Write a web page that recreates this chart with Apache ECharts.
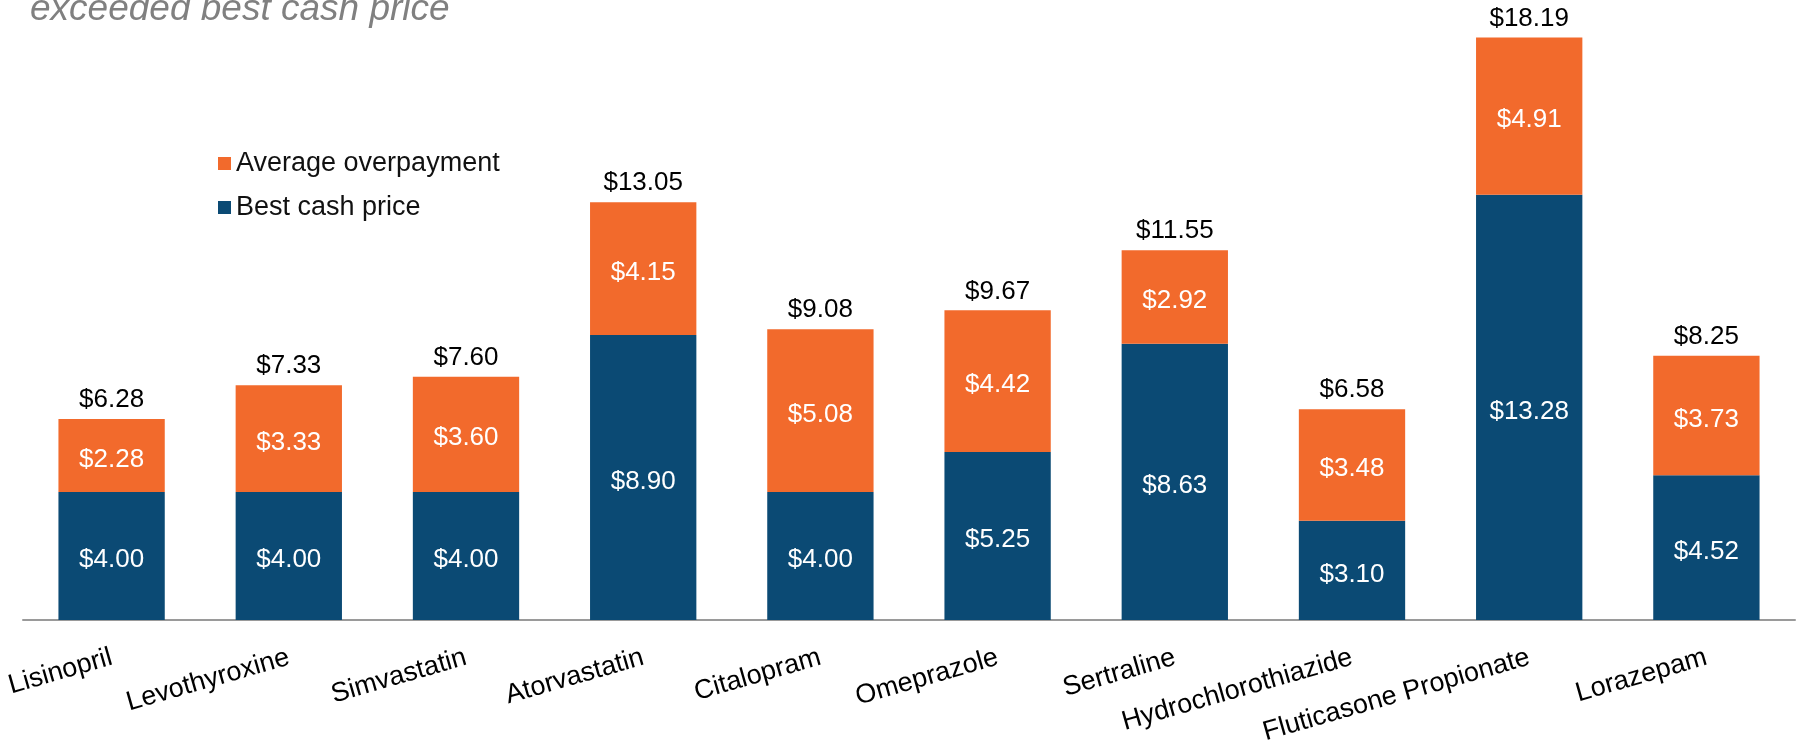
<!DOCTYPE html>
<html>
<head>
<meta charset="utf-8">
<script src="https://cdn.jsdelivr.net/npm/echarts@6/dist/echarts.min.js"></script>
<style>
  html, body { margin: 0; padding: 0; background: #fff; }
  #main { width: 1799px; height: 743px; }
</style>
</head>
<body>
<div id="main"></div>
<script>
  // drugs on the x axis
  var drugs = ['Lisinopril', 'Levothyroxine', 'Simvastatin', 'Atorvastatin', 'Citalopram',
    'Omeprazole', 'Sertraline', 'Hydrochlorothiazide', 'Fluticasone Propionate', 'Lorazepam'];
  // bottom part of each bar
  var bestCash = [4.00, 4.00, 4.00, 8.90, 4.00, 5.25, 8.63, 3.10, 13.28, 4.52];
  // top part of each bar
  var overpay = [2.28, 3.33, 3.60, 4.15, 5.08, 4.42, 2.92, 3.48, 4.91, 3.73];
  // label shown above each bar
  var totals = [6.28, 7.33, 7.60, 13.05, 9.08, 9.67, 11.55, 6.58, 18.19, 8.25];
  var zeros = [0, 0, 0, 0, 0, 0, 0, 0, 0, 0];

  var font = 'Liberation Sans, Arial, sans-serif';
  var money = function (v) { return '$' + v.toFixed(2); };

  var myChart = echarts.init(document.getElementById('main'));
  myChart.setOption({
    animation: false,
    title: {
      text: 'exceeded best cash price',
      left: 30,
      top: -9,
      padding: 0,
      textStyle: { color: '#808080', fontSize: 37, fontStyle: 'italic', fontWeight: 'normal', fontFamily: font }
    },
    legend: {
      data: ['Average overpayment', 'Best cash price'],
      orient: 'vertical',
      left: 218,
      top: 150,
      padding: 0,
      itemWidth: 13,
      itemHeight: 13,
      itemGap: 17,
      icon: 'rect',
      textStyle: { color: '#111', fontSize: 27, fontFamily: font }
    },
    // keep the plot where it is even if the long labels run past the bottom
    grid: { left: 23, right: 4, top: 11.6, bottom: 123, containLabel: false, outerBoundsMode: 'none' },
    xAxis: {
      type: 'category',
      data: drugs,
      axisLine: { lineStyle: { color: '#9a9a9a', width: 2 } },
      axisTick: { length: 8, lineStyle: { color: '#9a9a9a', width: 2 } },
      axisLabel: { rotate: 16, margin: 37, color: '#000', fontSize: 27, fontFamily: font, interval: 0 }
    },
    yAxis: {
      type: 'value',
      min: 0,
      max: 19,
      show: false,
      splitLine: { show: false }
    },
    series: [
      {
        name: 'Best cash price',
        type: 'bar',
        stack: 'p',
        barWidth: '60%',
        itemStyle: { color: '#0B4A74' },
        label: {
          show: true, position: 'inside', offset: [0, 4], color: '#fff', fontSize: 26, fontFamily: font,
          formatter: function (p) { return money(p.value); }
        },
        data: bestCash
      },
      {
        name: 'Average overpayment',
        type: 'bar',
        stack: 'p',
        barWidth: '60%',
        itemStyle: { color: '#F26A2C' },
        label: {
          show: true, position: 'inside', offset: [0, 4], color: '#fff', fontSize: 26, fontFamily: font,
          formatter: function (p) { return money(p.value); }
        },
        data: overpay
      },
      {
        name: 'Total',
        type: 'bar',
        stack: 'p',
        barWidth: '60%',
        itemStyle: { color: 'transparent' },
        label: {
          show: true, position: 'top', distance: 6, color: '#000', fontSize: 26, fontFamily: font,
          formatter: function (p) { return money(totals[p.dataIndex]); }
        },
        data: zeros
      }
    ]
  });
</script>
</body>
</html>
